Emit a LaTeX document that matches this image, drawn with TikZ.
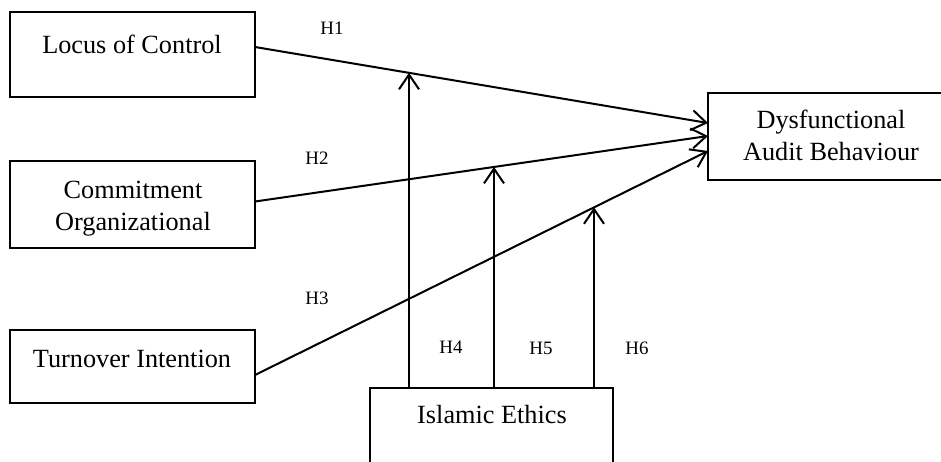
\documentclass[tikz,border=0pt]{standalone}
\usepackage{fontspec}
\setmainfont{Liberation Serif}
\usetikzlibrary{arrows.meta,calc}
\begin{document}
\begin{tikzpicture}[x=0.75pt,y=-0.75pt,
  box/.style 2 args={draw, line width=1.5pt, inner sep=0pt, outer sep=0pt,
    minimum width=#1*0.75pt, minimum height=#2*0.75pt},
  txt/.style={anchor=base, inner sep=0pt, font=\fontsize{19.7}{23.6}\selectfont},
  hyp/.style={inner sep=0pt, font=\fontsize{14.2}{17}\selectfont},
  arr/.style={line width=1.5pt, -{Straight Barb[length=11pt,width=15pt,line width=1.5pt]}}]
\useasboundingbox (0,0) rectangle (941,461);
\clip (0,0) rectangle (941,461);
% boxes
\node[box={245}{85}] (loc) at (132.5,54.5) {};
\node[box={245}{87}] (com) at (132.5,204.5) {};
\node[box={245}{73}] (tur) at (132.5,366.5) {};
\node[box={243}{82}] (ie)  at (491.5,429) {};
\node[box={242}{87}] (dab) at (829,136.5) {};
% texts
\node[txt] (tloc) at (132,53) {Locus of Control};
\node[txt] (tcom1) at (133,198) {Commitment};
\node[txt] (tcom2) at (133,230) {Organizational};
\node[txt] (ttur) at (132,367) {Turnover Intention};
\node[txt] (tie) at (492,423) {Islamic Ethics};
\node[txt] (tdab1) at (831,128) {Dysfunctional};
\node[txt] (tdab2) at (831,160) {Audit Behaviour};
% endpoints
\coordinate (s1) at ($(loc.east)+(0,-7.5)$);
\coordinate (s2) at ($(com.east)+(0,-3)$);
\coordinate (s3) at ($(tur.east)+(0,8.5)$);
\coordinate (e1) at ($(dab.west)+(0,-13.5)$);
\coordinate (e2) at ($(dab.west)+(0,-0.5)$);
\coordinate (e3) at ($(dab.west)+(0,14.5)$);
\coordinate (m1) at ($(s1)!0.33996!(e1)$);
\coordinate (m2) at ($(s2)!0.52759!(e2)$);
\coordinate (m3) at ($(s3)!0.74834!(e3)$);
% main paths
\draw[arr] (s1) -- (e1);
\draw[arr] (s2) -- (e2);
\draw[arr] (s3) -- (e3);
% moderation
\draw[arr] (ie.north -| m1) -- (m1);
\draw[arr] (ie.north -| m2) -- (m2);
\draw[arr] (ie.north -| m3) -- (m3);
% labels
\node[hyp] (h1) at (332,28) {H1};
\node[hyp] (h2) at (317,158) {H2};
\node[hyp] (h3) at (317,298) {H3};
\node[hyp] (h4) at (451,347) {H4};
\node[hyp] (h5) at (541,348) {H5};
\node[hyp] (h6) at (637,348) {H6};
\end{tikzpicture}
\end{document}
